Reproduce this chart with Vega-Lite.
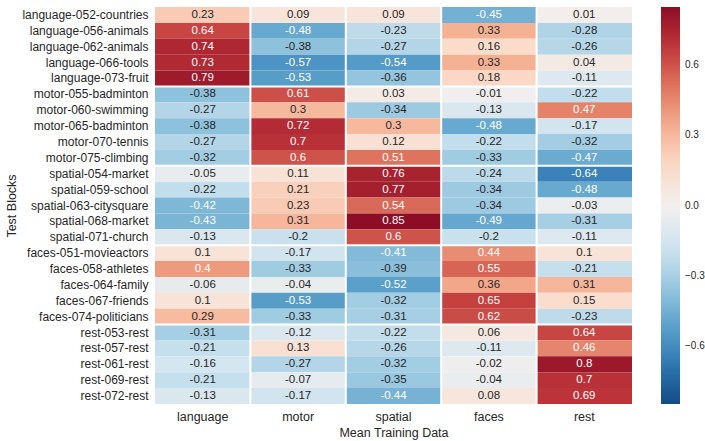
{
  "$schema": "https://vega.github.io/schema/vega-lite/v6.json",
  "width": 477,
  "height": 397,
  "autosize": {"type": "none"},
  "padding": {"left": 155, "top": 7, "right": 73, "bottom": 37},
  "background": "white",
  "config": {
    "font": "Liberation Sans",
    "view": {"stroke": null},
    "axis": {"labelColor": "#262626", "titleColor": "#262626", "titleFontWeight": "normal", "domain": false, "ticks": false, "grid": false},
    "legend": {"labelColor": "#262626"}
  },
  "datasets": {
    "scores": [
      {"block": "language-052-countries", "language": 0.23, "motor": 0.09, "spatial": 0.09, "faces": -0.45, "rest": 0.01},
      {"block": "language-056-animals", "language": 0.64, "motor": -0.48, "spatial": -0.23, "faces": 0.33, "rest": -0.28},
      {"block": "language-062-animals", "language": 0.74, "motor": -0.38, "spatial": -0.27, "faces": 0.16, "rest": -0.26},
      {"block": "language-066-tools", "language": 0.73, "motor": -0.57, "spatial": -0.54, "faces": 0.33, "rest": 0.04},
      {"block": "language-073-fruit", "language": 0.79, "motor": -0.53, "spatial": -0.36, "faces": 0.18, "rest": -0.11},
      {"block": "motor-055-badminton", "language": -0.38, "motor": 0.61, "spatial": 0.03, "faces": -0.01, "rest": -0.22},
      {"block": "motor-060-swimming", "language": -0.27, "motor": 0.3, "spatial": -0.34, "faces": -0.13, "rest": 0.47},
      {"block": "motor-065-badminton", "language": -0.38, "motor": 0.72, "spatial": 0.3, "faces": -0.48, "rest": -0.17},
      {"block": "motor-070-tennis", "language": -0.27, "motor": 0.7, "spatial": 0.12, "faces": -0.22, "rest": -0.32},
      {"block": "motor-075-climbing", "language": -0.32, "motor": 0.6, "spatial": 0.51, "faces": -0.33, "rest": -0.47},
      {"block": "spatial-054-market", "language": -0.05, "motor": 0.11, "spatial": 0.76, "faces": -0.24, "rest": -0.64},
      {"block": "spatial-059-school", "language": -0.22, "motor": 0.21, "spatial": 0.77, "faces": -0.34, "rest": -0.48},
      {"block": "spatial-063-citysquare", "language": -0.42, "motor": 0.23, "spatial": 0.54, "faces": -0.34, "rest": -0.03},
      {"block": "spatial-068-market", "language": -0.43, "motor": 0.31, "spatial": 0.85, "faces": -0.49, "rest": -0.31},
      {"block": "spatial-071-church", "language": -0.13, "motor": -0.2, "spatial": 0.6, "faces": -0.2, "rest": -0.11},
      {"block": "faces-051-movieactors", "language": 0.1, "motor": -0.17, "spatial": -0.41, "faces": 0.44, "rest": 0.1},
      {"block": "faces-058-athletes", "language": 0.4, "motor": -0.33, "spatial": -0.39, "faces": 0.55, "rest": -0.21},
      {"block": "faces-064-family", "language": -0.06, "motor": -0.04, "spatial": -0.52, "faces": 0.36, "rest": 0.31},
      {"block": "faces-067-friends", "language": 0.1, "motor": -0.53, "spatial": -0.32, "faces": 0.65, "rest": 0.15},
      {"block": "faces-074-politicians", "language": 0.29, "motor": -0.33, "spatial": -0.31, "faces": 0.62, "rest": -0.23},
      {"block": "rest-053-rest", "language": -0.31, "motor": -0.12, "spatial": -0.22, "faces": 0.06, "rest": 0.64},
      {"block": "rest-057-rest", "language": -0.21, "motor": 0.13, "spatial": -0.26, "faces": -0.11, "rest": 0.46},
      {"block": "rest-061-rest", "language": -0.16, "motor": -0.27, "spatial": -0.32, "faces": -0.02, "rest": 0.8},
      {"block": "rest-069-rest", "language": -0.21, "motor": -0.07, "spatial": -0.35, "faces": -0.04, "rest": 0.7},
      {"block": "rest-072-rest", "language": -0.13, "motor": -0.17, "spatial": -0.44, "faces": 0.08, "rest": 0.69}
    ],
    "colBreaks": [
      {"train": "motor"}, {"train": "spatial"}, {"train": "faces"}, {"train": "rest"}
    ],
    "rowBreaks": [
      {"block": "motor-055-badminton"}, {"block": "spatial-054-market"}, {"block": "faces-051-movieactors"}, {"block": "rest-053-rest"}
    ]
  },
  "data": {"name": "scores"},
  "transform": [
    {"fold": ["language", "motor", "spatial", "faces", "rest"], "as": ["train", "score"]}
  ],
  "layer": [
    {
      "mark": {"type": "rect"},
      "encoding": {
        "x": {
          "field": "train", "type": "nominal", "sort": null,
          "scale": {"paddingInner": 0, "paddingOuter": 0},
          "axis": {"title": "Mean Training Data", "labelAngle": 0, "labelFontSize": 12.5, "labelPadding": 6, "titleFontSize": 12.5, "titlePadding": 4}
        },
        "y": {
          "field": "block", "type": "nominal", "sort": null,
          "scale": {"paddingInner": 0, "paddingOuter": 0},
          "axis": {"title": "Test Blocks", "labelFontSize": 12, "labelPadding": 7, "titleFontSize": 12.5, "titlePadding": 3}
        },
        "color": {
          "field": "score", "type": "quantitative",
          "scale": {"scheme": "redblue", "reverse": true, "domain": [-0.85, 0.85]},
          "legend": {
            "title": null, "gradientLength": 397, "gradientThickness": 19, "offset": 29,
            "values": [-0.6, -0.3, 0, 0.3, 0.6], "format": ".1f", "labelFontSize": 10,
            "labelOffset": 5, "padding": 0, "gradientStrokeWidth": 0, "direction": "vertical"
          }
        }
      }
    },
    {
      "mark": {"type": "text", "fontSize": 11.5},
      "encoding": {
        "x": {"field": "train", "type": "nominal", "sort": null},
        "y": {"field": "block", "type": "nominal", "sort": null},
        "text": {"field": "score", "type": "nominal"},
        "color": {
          "condition": {"test": "abs(datum.score) >= 0.4", "value": "#ffffff"},
          "value": "#262626"
        }
      }
    },
    {
      "data": {"name": "colBreaks"},
      "mark": {"type": "rule", "color": "white", "strokeWidth": 2},
      "encoding": {
        "x": {"field": "train", "type": "nominal", "sort": null, "bandPosition": 0}
      }
    },
    {
      "data": {"name": "rowBreaks"},
      "mark": {"type": "rule", "color": "white", "strokeWidth": 2},
      "encoding": {
        "y": {"field": "block", "type": "nominal", "sort": null, "bandPosition": 0}
      }
    }
  ]
}
